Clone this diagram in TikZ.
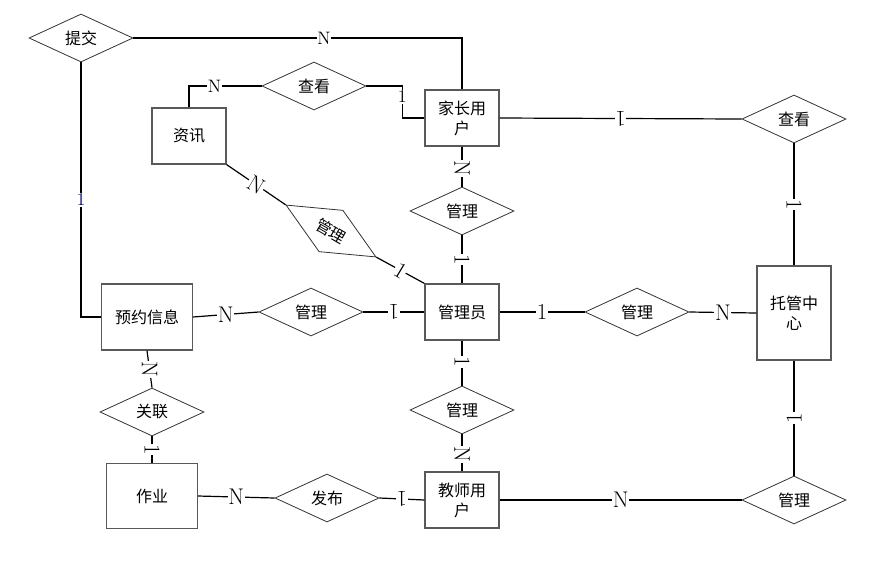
\documentclass[tikz,border=0pt]{standalone}
\usepackage{fontspec}
\newfontfamily\cjk{Noto Sans CJK SC}
\usetikzlibrary{shapes.geometric}
\begin{document}
\begin{tikzpicture}[x=0.75pt,y=-0.75pt,
ent/.style = {draw=black!65,line width=0.9pt,minimum width=55.5pt,minimum height=42pt,inner sep=0pt,align=center,font=\cjk\fontsize{12}{15}\selectfont},
rel/.style = {draw=black!80,line width=0.6pt,diamond,minimum width=78pt,minimum height=36pt,inner sep=0pt,font=\cjk\fontsize{12}{15}\selectfont},
edg/.style = {draw,line width=0.9pt},
card/.style = {fill=white,inner sep=0.5pt,font=\fontsize{17}{17}\selectfont},
smcard/.style = {card,font=\fontsize{13.5}{13.5}\selectfont}
]
  \useasboundingbox (0,0) rectangle (871,562);

  \node[rel] (tj) at (81,38) {提交};
  \node[ent] (zx) at (189,136) {资讯};
  \node[rel] (ck1) at (314,86) {查看};
  \node[ent] (jz) at (462,118) {家长用\\户};
  \node[rel] (ck2) at (794,119) {查看};
  \node[rel] (gl1) at (462,211) {管理};
  \node[rel,rotate=-30] (gl2) at (331,231) {管理};
  \node[ent] (gly) at (462,312) {管理员};
  \node[ent,minimum width=68pt,minimum height=49.5pt] (yy) at (147,317) {预约信息};
  \node[rel] (gl3) at (311,312) {管理};
  \node[rel] (gl4) at (637,312) {管理};
  \node[ent,minimum height=70.5pt] (tg) at (794,313) {托管中\\心};
  \node[rel] (gl5) at (462,410) {管理};
  \node[rel] (gl6) at (794,500) {管理};
  \node[rel] (gl) at (152,412) {关联};
  \node[ent,minimum width=68pt,minimum height=49pt] (zy) at (152,496) {作业};
  \node[rel] (fb) at (327,498) {发布};
  \node[ent] (js) at (462,500) {教师用\\户};

  \path[edg] (tj.east) -| (jz.north) node[smcard,pos=0.29] {N};
  \path[edg] (tj.south) |- (yy.west) node[smcard,pos=0.27,text=blue!40!black] {1};
  \path[edg] (zx.north) |- (ck1.west) node[smcard,pos=0.675] {N};
  \path[edg] (ck1.east) -- ++(36,0) |- (jz.west) node[smcard,pos=0.17] {1};
  \path[edg] (jz.east) -- (ck2.west) node[card,midway,rotate=180] {1};
  \path[edg] (ck2.south) -- (tg.north) node[card,midway,rotate=-90] {1};

  \path[edg] (jz.south) -- (gl1.north) node[card,pos=0.54,rotate=-90] {N};
  \path[edg] (gl1.south) -- (gly.north) node[card,midway,rotate=-90] {1};
  \path[edg] (zx.south east) -- (gl2.west) node[card,midway,rotate=-31] {N};
  \path[edg] (gl2.east) -- (gly.north west) node[card,midway,rotate=-31] {1};

  \path[edg] (yy.east) -- (gl3.west) node[card,midway] {N};
  \path[edg] (gl3.east) -- (gly.west) node[card,midway,rotate=180] {1};
  \path[edg] (gly.east) -- (gl4.west) node[card,midway] {1};
  \path[edg] (gl4.east) -- (tg.west) node[card,midway] {N};

  \path[edg] (gly.south) -- (gl5.north) node[card,pos=0.47,rotate=-90] {1};
  \path[edg] (gl5.south) -- (js.north) node[card,pos=0.55,rotate=-90] {N};
  \path[edg] (yy.south) -- (gl.north) node[card,midway,rotate=-90] {N};
  \path[edg] (gl.south) -- (zy.north) node[card,midway,rotate=-90] {1};

  \path[edg] (zy.east) -- (fb.west) node[card,midway] {N};
  \path[edg] (fb.east) -- (js.west) node[card,midway,rotate=180] {1};
  \path[edg] (js.east) -- (gl6.west) node[card,midway] {N};
  \path[edg] (gl6.north) -- (tg.south) node[card,midway,rotate=90] {1};

\end{tikzpicture}
\end{document}
